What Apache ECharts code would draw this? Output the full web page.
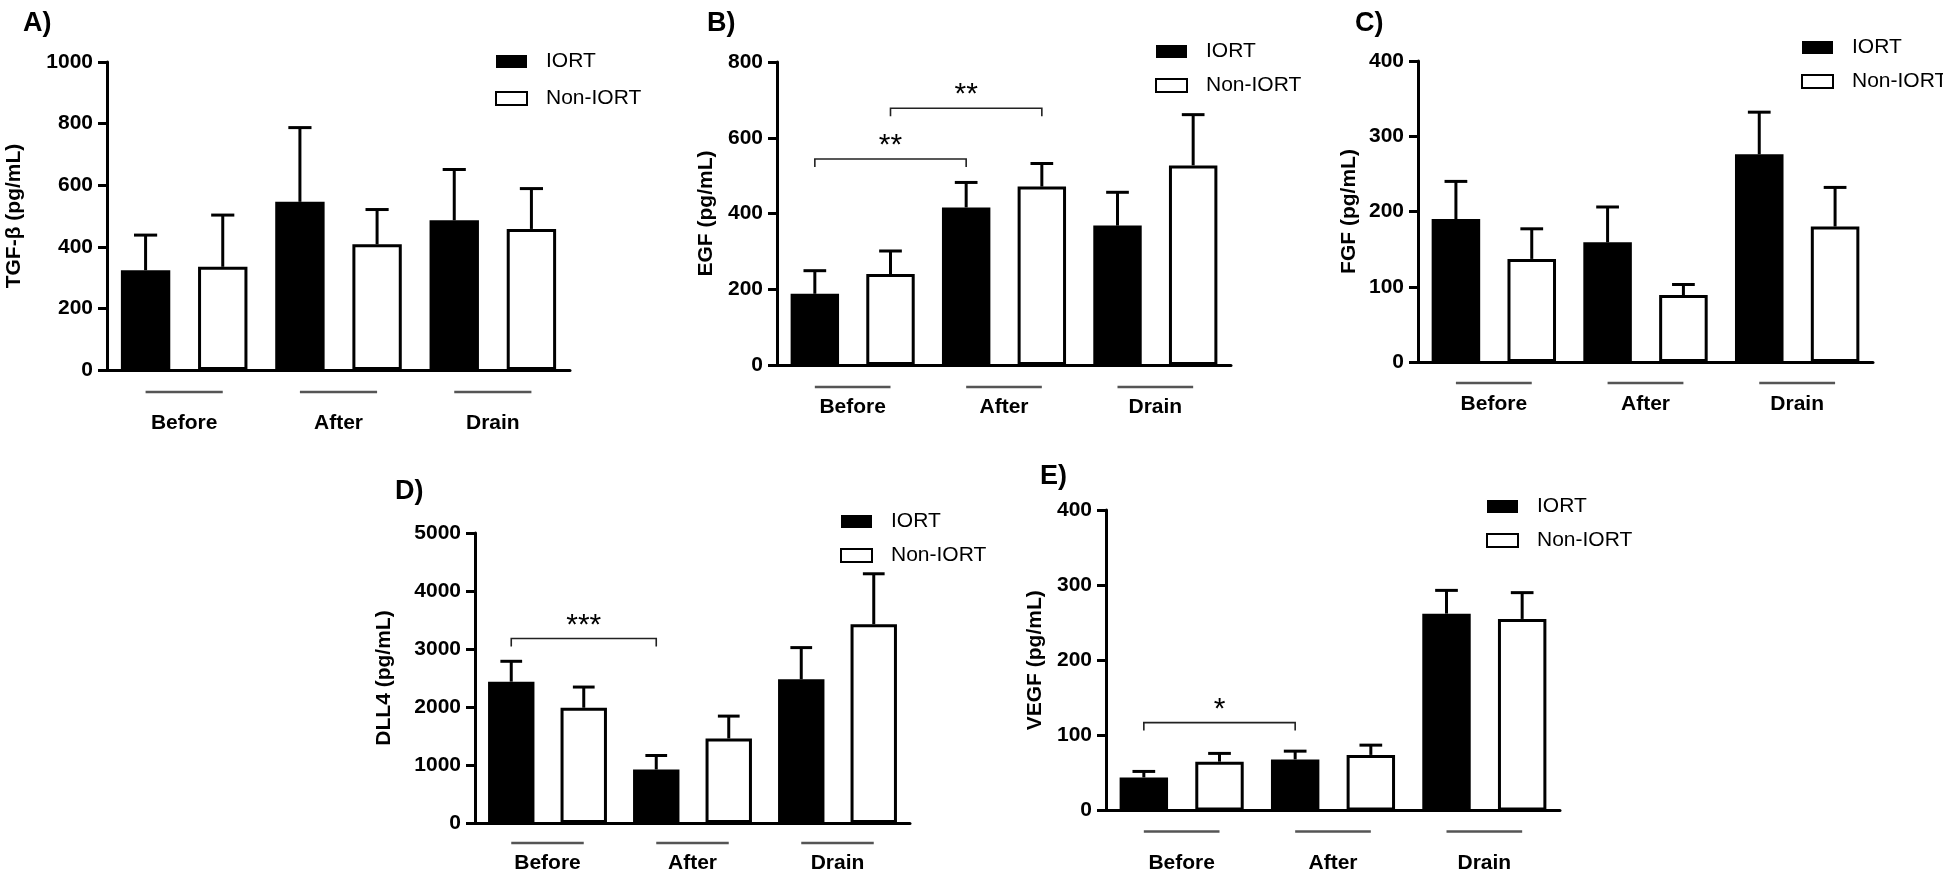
<!DOCTYPE html>
<html>
<head>
<meta charset="utf-8">
<script src="https://cdn.jsdelivr.net/npm/echarts@6/dist/echarts.min.js"></script>
<style>
  html, body { margin: 0; padding: 0; background: #fff; }
  #chart { width: 1943px; height: 874px; }
</style>
</head>
<body>
<div id="chart"></div>
<script>
// groups and series
const groups = ['Before', 'After', 'Drain']
const seriesNames = ['IORT', 'Non-IORT']

// A) TGF-beta, mean and SEM
const tgfIort = [324, 546, 486]
const tgfIortSem = [114, 241, 165]
const tgfNon = [335, 408, 458]
const tgfNonSem = [168, 113, 131]
const tgfTicks = [0, 200, 400, 600, 800, 1000]

// B) EGF
const egfIort = [188, 416, 368]
const egfIortSem = [61, 66, 88]
const egfNon = [240, 471, 527]
const egfNonSem = [61, 61, 134]
const egfTicks = [0, 200, 400, 600, 800]
// [from slot, to slot, height, mark]
const egfSig = [[0, 2, 544, '**'], [1, 3, 678, '**']]

// C) FGF
const fgfIort = [190, 159, 276]
const fgfIortSem = [50, 47, 56]
const fgfNon = [137, 89, 180]
const fgfNonSem = [40, 14, 52]
const fgfTicks = [0, 100, 200, 300, 400]

// D) DLL4
const dllIort = [2437, 922, 2477]
const dllIortSem = [351, 242, 547]
const dllNon = [1987, 1457, 3427]
const dllNonSem = [357, 386, 870]
const dllTicks = [0, 1000, 2000, 3000, 4000, 5000]
const dllSig = [[0, 2, 3180, '***']]

// E) VEGF
const vegfIort = [44, 68, 262]
const vegfIortSem = [8, 11, 31]
const vegfNon = [65, 74, 255]
const vegfNonSem = [11, 13, 35]
const vegfTicks = [0, 100, 200, 300, 400]
const vegfSig = [[0, 2, 117, '*']]

const FONT = '"Liberation Sans", Arial, Helvetica, sans-serif'

// 6 slots: each group has an IORT bar then a Non-IORT bar
const slots = groups.flatMap(g => [g + ' IORT', g + ' Non-IORT'])

const panels = [
    { letter: 'A)', title: 'TGF-β (pg/mL)', iort: tgfIort, iortSem: tgfIortSem, non: tgfNon, nonSem: tgfNonSem, ticks: tgfTicks, sig: [],
      grid: [107, 62, 463, 308], nameGap: 82, legend: [490, 46], legendGap: 16, letterPos: [18, 5], labelMargin: 16, textLine: 50 },
    { letter: 'B)', title: 'EGF (pg/mL)', iort: egfIort, iortSem: egfIortSem, non: egfNon, nonSem: egfNonSem, ticks: egfTicks, sig: egfSig,
      grid: [777, 62, 454, 303], nameGap: 60, legend: [1150, 36], legendGap: 13, letterPos: [702, 5], labelMargin: 16, textLine: 28 },
    { letter: 'C)', title: 'FGF (pg/mL)', iort: fgfIort, iortSem: fgfIortSem, non: fgfNon, nonSem: fgfNonSem, ticks: fgfTicks, sig: [],
      grid: [1418, 61, 455, 301], nameGap: 58, legend: [1796, 32], legendGap: 13, letterPos: [1350, 5], labelMargin: 15, textLine: 30 },
    { letter: 'D)', title: 'DLL4 (pg/mL)', iort: dllIort, iortSem: dllIortSem, non: dllNon, nonSem: dllNonSem, ticks: dllTicks, sig: dllSig,
      grid: [475, 533, 435, 290], nameGap: 80, legend: [835, 506], legendGap: 13, letterPos: [390, 473], labelMargin: 14, textLine: 28 },
    { letter: 'E)', title: 'VEGF (pg/mL)', iort: vegfIort, iortSem: vegfIortSem, non: vegfNon, nonSem: vegfNonSem, ticks: vegfTicks, sig: vegfSig,
      grid: [1106, 510, 454, 302], nameGap: 60, legend: [1481, 491], legendGap: 13, letterPos: [1035, 458], labelMargin: 15, textLine: 52 }
]

// put group values into their slot, '-' elsewhere
function toSlots (vals, offset) {
    const out = slots.map(() => '-')
    vals.forEach((v, i) => { out[i * 2 + offset] = v })
    return out
}

function errorItems (p) {
    const items = []
    groups.forEach((g, i) => {
        items.push([i * 2, p.iort[i], p.iort[i] + p.iortSem[i]])
        items.push([i * 2 + 1, p.non[i], p.non[i] + p.nonSem[i]])
    })
    return items
}

const option = {
    animation: false,
    backgroundColor: '#fff',
    title: [], grid: [], xAxis: [], yAxis: [], legend: [], series: []
}

panels.forEach((p, k) => {
    const slotW = p.grid[2] / 6
    option.title.push({
        text: p.letter, left: p.letterPos[0], top: p.letterPos[1],
        textStyle: { fontSize: 27, fontWeight: 'bold', fontFamily: FONT, color: '#000' }
    })
    option.grid.push({ left: p.grid[0], top: p.grid[1], width: p.grid[2], height: p.grid[3] })
    option.xAxis.push({
        type: 'category', gridIndex: k, data: slots,
        axisLine: { lineStyle: { color: '#000', width: 3 } },
        axisTick: { alignWithLabel: true, length: 10, lineStyle: { color: '#000', width: 3 } },
        axisLabel: { show: false }
    })
    option.xAxis.push({
        type: 'category', gridIndex: k, position: 'bottom', data: groups,
        axisLine: { show: false }, axisTick: { show: false },
        axisLabel: {
            interval: 0, margin: p.labelMargin,
            formatter: v => '{u| }\n{t|' + v + '}',
            rich: {
                u: { width: slotW, height: 2.5, lineHeight: 12, backgroundColor: '#555', align: 'center' },
                t: { fontSize: 21, fontWeight: 'bold', fontFamily: FONT, color: '#000', lineHeight: p.textLine, align: 'center' }
            }
        }
    })
    const ticks = p.ticks
    option.yAxis.push({
        type: 'value', gridIndex: k, min: ticks[0], max: ticks[ticks.length - 1], interval: ticks[1] - ticks[0],
        name: p.title, nameLocation: 'middle', nameGap: p.nameGap,
        nameTextStyle: { fontSize: 21, fontWeight: 'bold', fontFamily: FONT, color: '#000' },
        axisLine: { show: true, lineStyle: { color: '#000', width: 3 } },
        axisTick: { show: true, length: 9, lineStyle: { color: '#000', width: 3 } },
        axisLabel: { fontSize: 21, fontWeight: 'bold', fontFamily: FONT, color: '#000', margin: 14, formatter: v => String(v) },
        splitLine: { show: false }
    })
    option.legend.push({
        orient: 'vertical', left: p.legend[0], top: p.legend[1],
        data: seriesNames, icon: 'rect', itemWidth: 31, itemHeight: 13, itemGap: p.legendGap,
        selectedMode: false,
        textStyle: { fontSize: 21, fontFamily: FONT, color: '#000', padding: [0, 0, 0, 14] }
    })
    option.series.push({
        name: 'IORT', type: 'bar', xAxisIndex: k * 2, yAxisIndex: k,
        data: toSlots(p.iort, 0), barWidth: '64%', barGap: '-100%',
        itemStyle: { color: '#000' }
    })
    option.series.push({
        name: 'Non-IORT', type: 'bar', xAxisIndex: k * 2, yAxisIndex: k,
        data: toSlots(p.non, 1), barWidth: '64%', barGap: '-100%',
        itemStyle: { color: '#fff', borderColor: '#000', borderWidth: 3 }
    })
    // error bars (SEM, upper only)
    option.series.push({
        type: 'custom', xAxisIndex: k * 2, yAxisIndex: k, z: 5,
        data: errorItems(p), encode: { x: 0, y: [1, 2] },
        renderItem: (params, api) => {
            const a = api.coord([api.value(0), api.value(1)])
            const b = api.coord([api.value(0), api.value(2)])
            const half = slotW * 0.15
            return {
                type: 'group',
                children: [
                    { type: 'line', shape: { x1: a[0], y1: a[1], x2: b[0], y2: b[1] }, style: { stroke: '#000', lineWidth: 3 } },
                    { type: 'line', shape: { x1: b[0] - half, y1: b[1], x2: b[0] + half, y2: b[1] }, style: { stroke: '#000', lineWidth: 3 } }
                ]
            }
        }
    })
    // significance brackets
    if (p.sig.length) {
        option.series.push({
            type: 'custom', xAxisIndex: k * 2, yAxisIndex: k, z: 6,
            data: p.sig.map(s => [s[0], s[1], s[2]]), encode: { x: [0, 1], y: 2 },
            renderItem: (params, api) => {
                const a = api.coord([api.value(0), api.value(2)])
                const b = api.coord([api.value(1), api.value(2)])
                return {
                    type: 'group',
                    children: [
                        { type: 'polyline', shape: { points: [[a[0], a[1] + 8], a, b, [b[0], b[1] + 8]] },
                          style: { stroke: '#222', lineWidth: 1.6, fill: null } },
                        { type: 'text', style: { text: p.sig[params.dataIndex][3], x: (a[0] + b[0]) / 2, y: a[1] + 2,
                          align: 'center', verticalAlign: 'bottom', font: '30px ' + FONT, fill: '#000' } }
                    ]
                }
            }
        })
    }
})

const chart = echarts.init(document.getElementById('chart'))
chart.setOption(option)
</script>
</body>
</html>
